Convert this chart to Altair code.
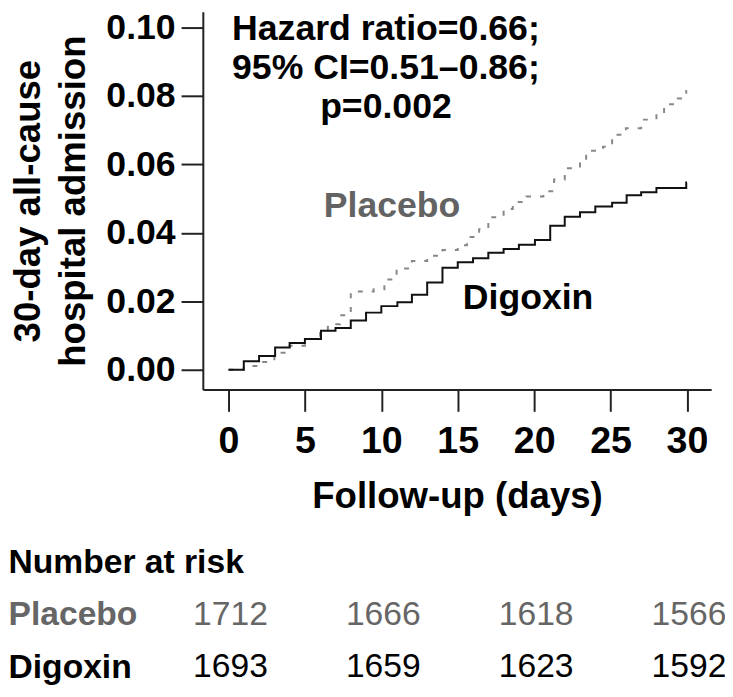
import altair as alt
import pandas as pd

# ---- data ----
dig_days = [0, 1.0, 2.0, 3.05, 4.0, 5.0, 6.05, 7.0, 8.0, 9.0, 10.0, 11.05, 12.0, 13.0, 14.0,
            15.0, 16.0, 17.0, 18.0, 19.0, 20.05, 21.05, 22.0, 23.0, 24.0, 25.1, 26.05, 27.0,
            28.0, 29.95, 30.0]
dig_vals = [0.0, 0.0025, 0.0040, 0.0065, 0.0078, 0.0090, 0.0114, 0.0122, 0.0144, 0.0167,
            0.0186, 0.0197, 0.0219, 0.0255, 0.0298, 0.0314, 0.0326, 0.0342, 0.0353, 0.0365,
            0.0379, 0.0421, 0.0447, 0.0460, 0.0477, 0.0488, 0.0510, 0.0519, 0.0531, 0.0547,
            0.0547]

pla_days = [0, 1.0, 2.0, 3.0, 4.0, 5.0, 6.0, 6.5, 7.3, 8.0, 9.5, 10.2, 11.0, 12.0, 13.0,
            14.0, 15.0, 15.6, 16.4, 17.0, 18.0, 18.6, 19.5, 20.6, 21.3, 22.0, 23.0, 23.4,
            24.5, 25.1, 26.0, 27.0, 28.0, 28.5, 29.4, 29.95, 30.0]
pla_vals = [0.0, 0.0011, 0.0023, 0.0050, 0.0070, 0.0090, 0.0115, 0.0133, 0.0159, 0.0229,
            0.0235, 0.0264, 0.0296, 0.0318, 0.0333, 0.0350, 0.0364, 0.0388, 0.0411, 0.0446,
            0.0470, 0.0490, 0.0506, 0.0522, 0.0556, 0.0589, 0.0609, 0.0640, 0.0652, 0.0687,
            0.0706, 0.0731, 0.0748, 0.0776, 0.0793, 0.0815, 0.0815]

risk_days = [0, 10, 20, 30]
risk_placebo = [1712, 1666, 1618, 1566]
risk_digoxin = [1693, 1659, 1623, 1592]
risk_rows = ["Number at risk", "Placebo", "Digoxin"]

x_ticks = [0, 5, 10, 15, 20, 25, 30]
y_ticks = [0.00, 0.02, 0.04, 0.06, 0.08, 0.10]

annotation = ["Hazard ratio=0.66;", "95% CI=0.51\u20130.86;", "p=0.002"]

# ---- tables ----
dig_df = pd.DataFrame({"day": dig_days, "risk": dig_vals})
pla_df = pd.DataFrame({"day": pla_days, "risk": pla_vals})
risk_df = pd.DataFrame({
    "group": ["Placebo"] * len(risk_days) + ["Digoxin"] * len(risk_days),
    "day": risk_days + risk_days,
    "n": risk_placebo + risk_digoxin,
})

FONT = "Liberation Sans"
W, H = 514, 382
XTITLE = "Follow-up (days)"
xscale = alt.Scale(domain=[-1.68, 31.58], nice=False, zero=False)
yscale = alt.Scale(domain=[-0.00578, 0.10462], nice=False, zero=False)

x_axis = alt.Axis(values=x_ticks, format="d", grid=False, labelFontSize=38, labelFontWeight="bold",
                  labelColor="black", labelFont=FONT, labelPadding=12, tickSize=22, tickWidth=2,
                  tickColor="#222", domainColor="#222", domainWidth=2, titleFontSize=37,
                  titleFontWeight="bold", titleFont=FONT, titleColor="black", titlePadding=18,
                  labelFlush=False)
y_axis = alt.Axis(values=y_ticks, format=".2f", grid=False, labelFontSize=36, labelFontWeight="bold",
                  labelColor="black", labelFont=FONT, labelPadding=6, tickSize=22, tickWidth=2,
                  tickColor="#222", domainColor="#222", domainWidth=2, titleFontSize=37,
                  titleFontWeight="bold", titleFont=FONT, titleColor="black", titlePadding=14,
                  titleLineHeight=45, labelFlush=False)

digoxin_line = alt.Chart(dig_df).mark_line(interpolate="step-after", color="#111111", strokeWidth=2).encode(
    x=alt.X("day:Q", scale=xscale, axis=x_axis, title=XTITLE),
    y=alt.Y("risk:Q", scale=yscale, axis=y_axis, title=["30-day all-cause", "hospital admission"]),
)
placebo_line = alt.Chart(pla_df).mark_line(interpolate="step-after", color="#888888", strokeWidth=2,
                                           strokeDash=[5, 9]).encode(
    x=alt.X("day:Q", scale=xscale, title=XTITLE),
    y=alt.Y("risk:Q", scale=yscale),
)

one = alt.Data(values=[{}])
ann_text = alt.Chart(one).mark_text(text=annotation, font=FONT, fontSize=36, fontWeight="bold",
                                    color="black", lineHeight=39, align="center", baseline="middle").encode(
    x=alt.datum(10.3), y=alt.datum(0.0994))
placebo_lbl = alt.Chart(one).mark_text(text="Placebo", font=FONT, fontSize=36, fontWeight="bold",
                                       color="#636363", align="center", baseline="middle").encode(
    x=alt.datum(10.7), y=alt.datum(0.0477))
digoxin_lbl = alt.Chart(one).mark_text(text="Digoxin", font=FONT, fontSize=36, fontWeight="bold",
                                       color="black", align="center", baseline="middle").encode(
    x=alt.datum(19.6), y=alt.datum(0.0208))

main = alt.layer(placebo_line, digoxin_line, ann_text, placebo_lbl, digoxin_lbl)

# number-at-risk table, drawn below the plot area on its own row scale
table = alt.Chart(risk_df).mark_text(font=FONT, fontSize=34, dx=2, baseline="middle").encode(
    x=alt.X("day:Q", scale=xscale, title=XTITLE),
    y=alt.Y("group:N", scale=alt.Scale(type="point", domain=risk_rows, range=[557, 663], padding=0),
            axis=alt.Axis(orient="left", title=None, ticks=False, domain=False, tickSize=0,
                          labelAlign="left", labelPadding=197, labelLimit=0, labelFontSize=34,
                          labelFontWeight="bold", labelFont=FONT, labelBaseline="middle",
                          labelColor={"expr": "datum.value === 'Placebo' ? '#666666' : '#000000'"})),
    text="n:Q",
    color=alt.Color("group:N", scale=alt.Scale(domain=["Placebo", "Digoxin"], range=["#666666", "#000000"]),
                    legend=None),
)

chart = alt.layer(main, table).resolve_scale(y="independent", color="independent").properties(
    width=W, height=H,
    autosize=alt.AutoSizeParams(type="none"),
    padding={"left": 197, "top": 0, "right": 14, "bottom": 299},
).configure(font=FONT).configure_view(stroke=None)

chart.save("out.html", embed_options={"renderer": "svg", "actions": False})
